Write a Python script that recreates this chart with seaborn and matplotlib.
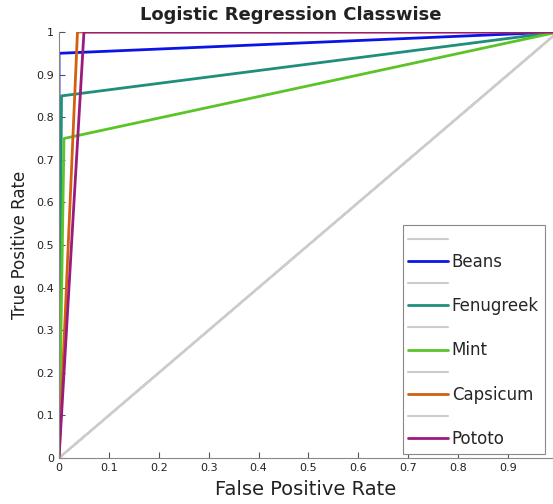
import matplotlib
matplotlib.use("Agg")
import matplotlib.pyplot as plt
import seaborn as sns

sns.set_style("white")
plt.rcParams.update({"font.family": ["DejaVu Sans"]})

# ROC points per class (FPR, TPR)
classes = ["Beans", "Fenugreek", "Mint", "Capsicum", "Pototo"]
fpr = {
    "Beans": [0.0, 0.0, 1.0],
    "Fenugreek": [0.0, 0.005, 1.0],
    "Mint": [0.0, 0.01, 1.0],
    "Capsicum": [0.0, 0.037, 1.0],
    "Pototo": [0.0, 0.05, 1.0],
}
tpr = {
    "Beans": [0.0, 0.95, 1.0],
    "Fenugreek": [0.0, 0.85, 1.0],
    "Mint": [0.0, 0.75, 1.0],
    "Capsicum": [0.0, 1.0, 1.0],
    "Pototo": [0.0, 1.0, 1.0],
}
chance = [0.0, 1.0]
colors = {
    "Beans": "#0a14e6",
    "Fenugreek": "#1f8f7c",
    "Mint": "#5cc428",
    "Capsicum": "#d2600f",
    "Pototo": "#9a1a7e",
}
ticks = [0, 0.1, 0.2, 0.3, 0.4, 0.5, 0.6, 0.7, 0.8, 0.9, 1]


def main():
    fig = plt.figure(figsize=(5.53, 5.04), dpi=100)
    ax = fig.add_axes([0.1067, 0.0913, 0.8933, 0.8452])

    for name in classes:
        sns.lineplot(x=chance, y=chance, color="#cccccc", lw=1.5, label=" ",
                     sort=False, estimator=None, ax=ax)
        sns.lineplot(x=fpr[name], y=tpr[name], color=colors[name], lw=2,
                     label=name, sort=False, estimator=None, ax=ax)

    ax.set_xlim(0, 0.99)
    ax.set_ylim(0, 1)
    ax.set_xticks(ticks[:-1])
    ax.set_xticklabels([f"{t:g}" for t in ticks[:-1]])
    ax.set_yticks(ticks)
    ax.set_yticklabels([f"{t:g}" for t in ticks])
    ax.tick_params(direction="in", length=4, width=0.8, colors="#555555",
                   labelcolor="#222222", labelsize=8, bottom=True, left=True)
    for s in ["top", "right"]:
        ax.spines[s].set_visible(False)
    for s in ["left", "bottom"]:
        ax.spines[s].set_color("#888888")
        ax.spines[s].set_linewidth(0.8)

    ax.set_xlabel("False Positive Rate", fontsize=14, color="#222222", labelpad=5)
    ax.set_ylabel("True Positive Rate", fontsize=12, color="#222222", labelpad=5)
    fig.text(0.526, 0.96, "Logistic Regression Classwise", ha="center",
             va="baseline", fontsize=13, fontweight="bold", color="#222222")

    leg = ax.legend(loc="upper left", bbox_to_anchor=(0.728, 0.554),
                    bbox_transform=fig.transFigure, borderaxespad=0,
                    fontsize=12, handlelength=2.4, handletextpad=0.2,
                    labelspacing=0.25, borderpad=0.35, fancybox=False,
                    framealpha=1)
    leg.get_frame().set_edgecolor("#888888")
    leg.get_frame().set_linewidth(0.8)

    fig.savefig("out.png", dpi=100)
    plt.close(fig)


if __name__ == "__main__":
    main()
